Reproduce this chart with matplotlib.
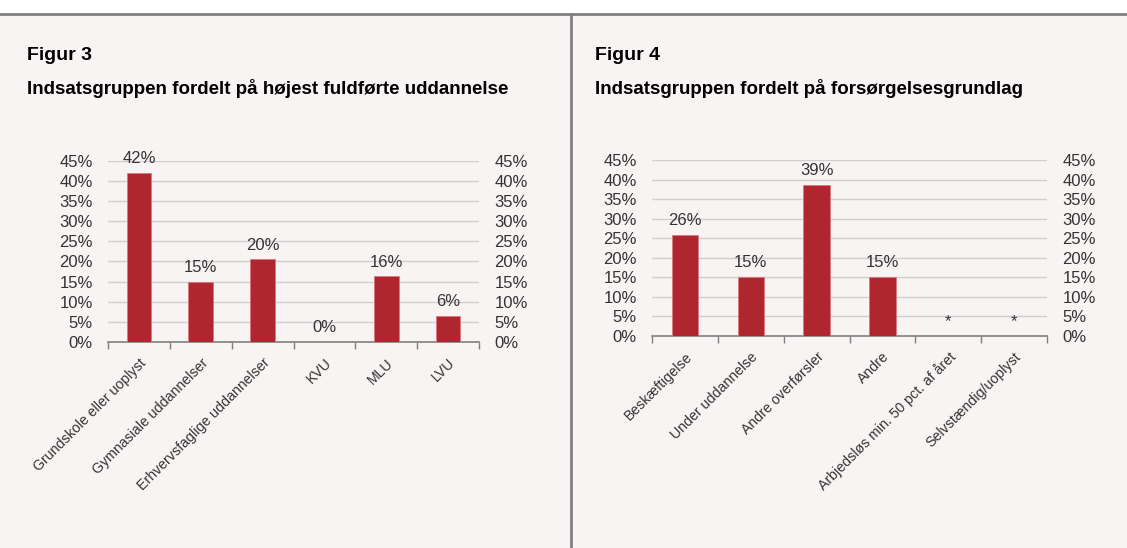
import matplotlib.pyplot as plt
import numpy as np

plt.rcParams['font.family'] = ['Liberation Sans', 'DejaVu Sans']

# data, figur 3
edu_cats = ["Grundskole eller uoplyst", "Gymnasiale uddannelser", "Erhvervsfaglige uddannelser",
            "KVU", "MLU", "LVU"]
edu_vals = [41.9, 15.0, 20.5, 0.0, 16.3, 6.4]
edu_labels = ["42%", "15%", "20%", "0%", "16%", "6%"]

# data, figur 4
fors_cats = ["Beskæftigelse", "Under uddannelse", "Andre overførsler", "Andre",
             "Arbjedsløs min. 50 pct. af året", "Selvstændig/uoplyst"]
fors_vals = [25.8, 15.0, 38.7, 15.0, 0.0, 0.0]
fors_labels = ["26%", "15%", "39%", "15%", "*", "*"]

yticks = [0, 5, 10, 15, 20, 25, 30, 35, 40, 45]

bg = '#f7f4f3'
red = '#b0262f'
txt = '#333333'

fig = plt.figure(figsize=(11.27, 5.48), dpi=100)
fig.patch.set_facecolor(bg)

# white strip on top + frame lines
fig.add_artist(plt.Rectangle((0, 1 - 14/548), 1, 14/548, transform=fig.transFigure,
                             facecolor='white', edgecolor='none'))
fig.add_artist(plt.Line2D([0, 1], [1 - 14/548, 1 - 14/548], transform=fig.transFigure,
                          color='#808080', lw=2))
fig.add_artist(plt.Line2D([571/1127, 571/1127], [0, 1 - 14/548], transform=fig.transFigure,
                          color='#808080', lw=2))


def bar_panel(rect, cats, vals, labels, title, subtitle, tx):
    ax = fig.add_axes(rect)
    ax.set_facecolor(bg)
    x = np.arange(len(cats))
    ax.bar(x, vals, width=0.4, color=red, edgecolor='#d97a80', linewidth=0.6, zorder=3)
    for xi, v, lab in zip(x, vals, labels):
        ax.annotate(lab, (xi, v), xytext=(0, 7), textcoords='offset points',
                    ha='center', va='baseline', fontsize=12, color=txt, zorder=4)
    ax.set_xlim(-0.5, len(cats) - 0.5)
    ax.set_ylim(0, 45)
    ax.set_yticks(yticks)
    ax.set_yticklabels([f"{t}%" for t in yticks])
    ax.yaxis.grid(True, color='#cfcfcf', lw=1, zorder=0)
    ax.set_axisbelow(True)
    ax.tick_params(axis='y', length=0, labelsize=12, labelcolor=txt, pad=11,
                   labelright=True, labelleft=True)
    for side in ['left', 'right', 'top']:
        ax.spines[side].set_visible(False)
    ax.spines['bottom'].set_color('#808080')
    ax.spines['bottom'].set_linewidth(1.2)
    ax.set_xticks(np.arange(len(cats) + 1) - 0.5)
    ax.set_xticklabels([])
    ax.tick_params(axis='x', length=5, color='#808080', width=1)
    ax.set_xticks(x, minor=True)
    ax.set_xticklabels(cats, minor=True, rotation=45, ha='right', rotation_mode='anchor',
                       fontsize=10.2, color=txt)
    ax.tick_params(axis='x', which='minor', length=0, pad=10)
    fig.text(tx / 1127, 1 - 55/548, title, fontsize=14, fontweight='bold', va='center', color='black')
    fig.text(tx / 1127, 1 - 88/548, subtitle, fontsize=13.5, fontweight='bold', va='center', color='black')
    return ax


bar_panel([108/1127, 1 - 342/548, 371/1127, 181.3/548], edu_cats, edu_vals, edu_labels,
          "Figur 3", "Indsatsgruppen fordelt på højest fuldførte uddannelse", 27)
bar_panel([652/1127, 1 - 335.7/548, 395/1127, 175.7/548], fors_cats, fors_vals, fors_labels,
          "Figur 4", "Indsatsgruppen fordelt på forsørgelsesgrundlag", 595)

fig.savefig('out.png', dpi=100, facecolor=bg)
